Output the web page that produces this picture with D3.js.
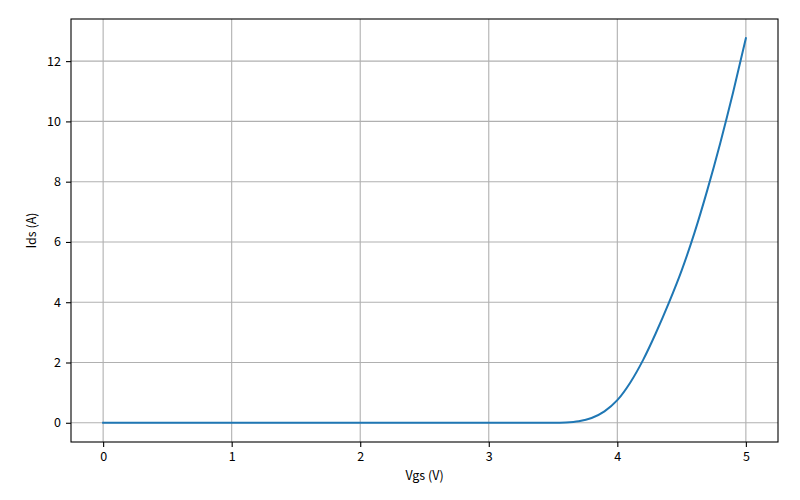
<!DOCTYPE html>
<html>
<head>
<meta charset="utf-8">
<script src="https://cdn.jsdelivr.net/npm/d3@7"></script>
<style>
  html, body { margin: 0; padding: 0; background: #fff; }
  svg { display: block; }
  text { font-family: "Noto Sans CJK SC", "DejaVu Sans", sans-serif; fill: #000; }
</style>
</head>
<body>
<script>
// Data
const vgs = [0, 0.5, 1.0, 1.5, 2.0, 2.5, 3.0, 3.3, 3.5, 3.6, 3.7, 3.8, 3.9, 4.0, 4.1, 4.2, 4.3, 4.4, 4.5, 4.6, 4.7, 4.8, 4.9, 5.0];
const ids = [0, 0, 0, 0, 0, 0, 0, 0, 0.002, 0.012, 0.05, 0.16, 0.38, 0.75, 1.33, 2.08, 2.98, 3.97, 5.05, 6.3, 7.72, 9.27, 10.95, 12.76];
const xTicks = [0, 1, 2, 3, 4, 5];
const yTicks = [0, 2, 4, 6, 8, 10, 12];
const xLabel = "Vgs (V)";
const yLabel = "Ids (A)";

const W = 800, H = 500;
const m = { left: 71, right: 22, top: 19, bottom: 58 };
const iw = W - m.left - m.right, ih = H - m.top - m.bottom;

const svg = d3.select("body").append("svg").attr("width", W).attr("height", H);
const g = svg.append("g").attr("transform", `translate(${m.left},${m.top})`);

const xMin = d3.min(vgs), xMax = d3.max(vgs);
const yMin = d3.min(ids), yMax = d3.max(ids);
const xPad = (xMax - xMin) * 0.05, yPad = (yMax - yMin) * 0.05;
const x = d3.scaleLinear().domain([xMin - xPad, xMax + xPad]).range([0, iw]);
const y = d3.scaleLinear().domain([yMin - yPad, yMax + yPad]).range([ih, 0]);

// grid
g.append("g").selectAll("line").data(xTicks).join("line")
  .attr("x1", d => x(d)).attr("x2", d => x(d)).attr("y1", 0).attr("y2", ih)
  .attr("stroke", "#b0b0b0").attr("stroke-width", 1.1);
g.append("g").selectAll("line").data(yTicks).join("line")
  .attr("y1", d => y(d)).attr("y2", d => y(d)).attr("x1", 0).attr("x2", iw)
  .attr("stroke", "#b0b0b0").attr("stroke-width", 1.1);

// line
const data = vgs.map((v, i) => [v, ids[i]]);
g.append("path").datum(data)
  .attr("fill", "none").attr("stroke", "#1f77b4").attr("stroke-width", 2)
  .attr("stroke-linejoin", "round").attr("stroke-linecap", "square")
  .attr("d", d3.line().x(d => x(d[0])).y(d => y(d[1])).curve(d3.curveMonotoneX));

// axes
const xAxis = g.append("g").attr("transform", `translate(0,${ih})`)
  .call(d3.axisBottom(x).tickValues(xTicks).tickFormat(d3.format("d")).tickSize(5).tickPadding(5));
const yAxis = g.append("g")
  .call(d3.axisLeft(y).tickValues(yTicks).tickFormat(d3.format("d")).tickSize(5).tickPadding(5));
[xAxis, yAxis].forEach(a => {
  a.select(".domain").remove();
  a.selectAll("line").attr("stroke", "#000").attr("stroke-width", 1.1);
  a.selectAll("text").attr("font-size", 12.5).attr("font-family", "'Noto Sans CJK SC', sans-serif").attr("fill", "#000");
});

// frame
g.append("rect").attr("x", 0).attr("y", 0).attr("width", iw).attr("height", ih)
  .attr("fill", "none").attr("stroke", "#000").attr("stroke-width", 1.1);

// labels
svg.append("text").attr("x", m.left + iw / 2).attr("y", 480)
  .attr("text-anchor", "middle").attr("font-size", 12.5).text(xLabel);
svg.append("text").attr("transform", `translate(36,${m.top + ih / 2}) rotate(-90)`)
  .attr("text-anchor", "middle").attr("font-size", 12.5).text(yLabel);
</script>
</body>
</html>
